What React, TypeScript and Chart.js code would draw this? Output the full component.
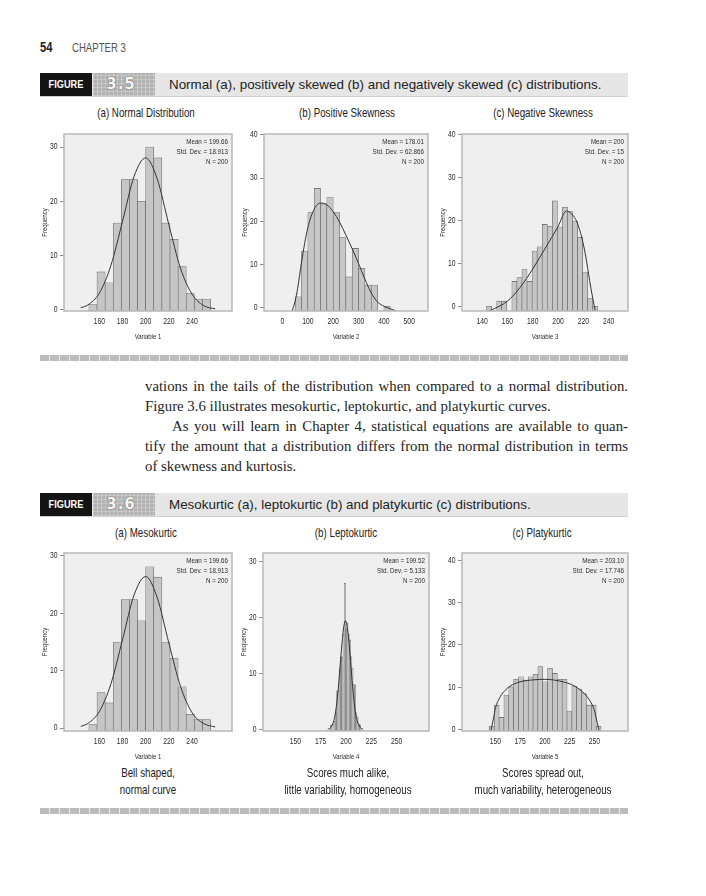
import React, { useEffect, useRef } from "react";
import { Chart, registerables } from "chart.js";
Chart.register(...registerables);

const SANS = "'Liberation Sans', Arial, sans-serif";
const SERIF = "'Liberation Serif', 'Times New Roman', serif";
const CONDENSE = 0.8;

// ---------- Figure 3.5 (a) Normal distribution ----------
const binStartA = 151;
const binWidthA = 7;
const countsA = [1, 7, 5, 16, 24, 24, 20, 30, 28, 16, 13, 8, 3, 2, 2];
const curveXA = [144, 150, 160, 170, 180, 190, 200, 210, 220, 230, 240, 250, 260];
const curveYA = [0.4, 0.9, 3.1, 8.2, 16.3, 24.6, 28.0, 24.1, 15.7, 7.7, 2.9, 0.8, 0.2];
const xTicksA = [160, 180, 200, 220, 240];
const yTicksA = [0, 10, 20, 30];
const statsA = ["Mean = 199.66", "Std. Dev. = 18.913", "N = 200"];

// ---------- Figure 3.5 (b) Positive skewness ----------
const binStartB = 50;
const binWidthB = 25;
const countsB = [2.5, 13.1, 22, 27.6, 24, 25.5, 22, 16.2, 7.1, 13.7, 9.1, 5.2, 5.2, null, 0.3];
const curveXB = [38, 50, 60, 75, 100, 125, 150, 175, 200, 225, 250, 275, 300, 325, 350, 375, 400, 425, 450];
const curveYB = [-0.8, 1.5, 4.5, 10.5, 18.5, 22.8, 24.2, 23.8, 22.2, 19.8, 16.8, 13.6, 10.2, 6.6, 3.4, 1.3, 0.3, -0.3, -0.8];
const xTicksB = [0, 100, 200, 300, 400, 500];
const yTicksB = [0, 10, 20, 30, 40];
const statsB = ["Mean = 178.01", "Std. Dev. = 62.866", "N = 200"];

// ---------- Figure 3.5 (c) Negative skewness ----------
const binStartC = 143.5;
const binWidthC = 4;
const countsC = [0, null, 1.2, 1.2, null, 5.8, 6.7, 8.7, 5.8, 12.9, 13.9, 19.1, 18.7, 24.6, 18.5, 23.1, 22.1, 19.9, 16.1, 8.0, 1.8, 0];
const curveXC = [145, 150, 160, 170, 180, 190, 200, 206.5, 211, 215, 219, 222, 225, 227.5, 229.5];
const curveYC = [-1.1, -0.5, 1.2, 4.4, 8.7, 13.6, 18.6, 22.2, 21.5, 19.6, 15.8, 11.5, 6.0, 1.8, -1.1];
const xTicksC = [140, 160, 180, 200, 220, 240];
const yTicksC = [0, 10, 20, 30, 40];
const statsC = ["Mean = 200", "Std. Dev. = 15", "N = 200"];

// ---------- Figure 3.6 (a) Mesokurtic ----------
const binStartD = 151;
const binWidthD = 7;
const countsD = [0.6, 6.2, 4.4, 15, 22.4, 22.4, 18.7, 28.1, 26.3, 14.9, 12.1, 7.2, 2.4, 1.5, 1.5];
const curveXD = [144, 150, 160, 170, 180, 190, 200, 210, 220, 230, 240, 250, 260];
const curveYD = [0.3, 0.8, 2.9, 7.7, 15.4, 23.2, 26.4, 22.7, 14.8, 7.3, 2.7, 0.8, 0.2];
const xTicksD = [160, 180, 200, 220, 240];
const yTicksD = [0, 10, 20, 30];
const statsD = ["Mean = 199.66", "Std. Dev. = 18.913", "N = 200"];

// ---------- Figure 3.6 (b) Leptokurtic ----------
const binStartE = 184.5;
const binWidthE = 1.25;
const countsE = [0.8, null, 1, 1.5, 3, 6.9, 7, 11, 13, 13, 17, 26.1, 18, 19, 17, 16, 13, 11, 8, 8, 3, 2.3, 1, 0.8];
const curveXE = [182, 185, 188, 190, 192, 194, 196, 198, 199.5, 201, 203, 205, 207, 209, 211, 214, 217];
const curveYE = [0.05, 0.4, 1.6, 3.5, 6.6, 10.9, 15.3, 18.6, 19.4, 18.6, 15.4, 11.0, 6.7, 3.5, 1.6, 0.4, 0.05];
const xTicksE = [150, 175, 200, 225, 250];
const yTicksE = [0, 10, 20, 30];
const statsE = ["Mean = 199.52", "Std. Dev. = 5.133", "N = 200"];

// ---------- Figure 3.6 (c) Platykurtic ----------
const binStartF = 144;
const binWidthF = 4.9;
const countsF = [0.8, 5.8, 2.9, 8.2, 10.1, 11.9, 12.5, 11.7, 12.5, 13.1, 14.9, 11.3, 14.5, 13.3, 11.9, 11.9, 4.4, 10.3, 9.6, 8.5, 5.8, 5.8, 0.8];
const curveXF = [145.5, 148, 150, 155, 160, 165, 175, 190, 200, 210, 220, 230, 240, 245, 250, 253, 255];
const curveYF = [-0.3, 2.5, 5.0, 7.8, 9.3, 10.3, 11.3, 11.8, 11.9, 11.7, 11.2, 10.3, 8.5, 7.0, 4.6, 1.5, -0.3];
const xTicksF = [150, 175, 200, 225, 250];
const yTicksF = [0, 10, 20, 30, 40];
const statsF = ["Mean = 203.10", "Std. Dev. = 17.746", "N = 200"];

type PanelCfg = {
  area: [number, number, number, number];
  xRange: [number, number];
  yRange: [number, number];
  binStart: number;
  binWidth: number;
  counts: (number | null)[];
  curveX: number[];
  curveY: number[];
  xTicks: number[];
  yTicks: number[];
  stats: string[];
  xTitle: string;
};

const panels: PanelCfg[] = [
  { area: [64, 134, 232, 311], xRange: [144, 260], yRange: [-0.2, 32.4], binStart: binStartA, binWidth: binWidthA, counts: countsA, curveX: curveXA, curveY: curveYA, xTicks: xTicksA, yTicks: yTicksA, stats: statsA, xTitle: "Variable 1" },
  { area: [264, 134, 428, 311], xRange: [-19, 520], yRange: [-0.8, 40.2], binStart: binStartB, binWidth: binWidthB, counts: countsB, curveX: curveXB, curveY: curveYB, xTicks: xTicksB, yTicks: yTicksB, stats: statsB, xTitle: "Variable 2" },
  { area: [462, 134, 628, 311], xRange: [135, 244.4], yRange: [-1.1, 40.2], binStart: binStartC, binWidth: binWidthC, counts: countsC, curveX: curveXC, curveY: curveYC, xTicks: xTicksC, yTicks: yTicksC, stats: statsC, xTitle: "Variable 3" },
  { area: [64, 553, 232, 731], xRange: [144, 260], yRange: [-0.5, 30.5], binStart: binStartD, binWidth: binWidthD, counts: countsD, curveX: curveXD, curveY: curveYD, xTicks: xTicksD, yTicks: yTicksD, stats: statsD, xTitle: "Variable 1" },
  { area: [263, 553, 429, 731], xRange: [134.5, 265.5], yRange: [-0.24, 31.5], binStart: binStartE, binWidth: binWidthE, counts: countsE, curveX: curveXE, curveY: curveYE, xTicks: xTicksE, yTicks: yTicksE, stats: statsE, xTitle: "Variable 4" },
  { area: [462, 553, 628, 731], xRange: [133.1, 267.2], yRange: [-0.3, 41.7], binStart: binStartF, binWidth: binWidthF, counts: countsF, curveX: curveXF, curveY: curveYF, xTicks: xTicksF, yTicks: yTicksF, stats: statsF, xTitle: "Variable 5" },
];

const PL = 34, PT = 8, PR = 6, PB = 34;

function condText(ctx: CanvasRenderingContext2D, s: string, x: number, y: number, align: CanvasTextAlign, size: number, rotate = 0) {
  ctx.save();
  ctx.translate(x, y);
  if (rotate) ctx.rotate(rotate);
  ctx.scale(CONDENSE, 1);
  ctx.font = `${size}px ${SANS}`;
  ctx.textAlign = align;
  ctx.textBaseline = "middle";
  ctx.fillText(s, 0, 0);
  ctx.restore();
}

function Panel({ cfg }: { cfg: PanelCfg }) {
  const ref = useRef<HTMLCanvasElement>(null);
  const [l, t, r, b] = cfg.area;
  const W = r - l + PL + PR;
  const H = b - t + PT + PB;
  useEffect(() => {
    if (!ref.current) return;
    const bars = cfg.counts.map((c, i) => ({ x: cfg.binStart + cfg.binWidth * (i + 0.5), y: c }));
    const curve = cfg.curveX.map((x, i) => ({ x, y: cfg.curveY[i] }));
    const framePlugin = {
      id: "frame",
      beforeDraw(chart: any) {
        const { ctx, chartArea: a } = chart;
        ctx.save();
        ctx.fillStyle = "#efefef";
        ctx.fillRect(a.left, a.top, a.right - a.left, a.bottom - a.top);
        ctx.restore();
      },
      afterDraw(chart: any) {
        const { ctx, chartArea: a, scales } = chart;
        ctx.save();
        ctx.strokeStyle = "#bcbcbc";
        ctx.lineWidth = 1.6;
        ctx.strokeRect(a.left, a.top, a.right - a.left, a.bottom - a.top);
        ctx.fillStyle = "#2c2c2c";
        cfg.stats.forEach((s, i) => condText(ctx, s, a.right - 4, a.top + 7.5 + i * 10.3, "right", 7.8));
        cfg.xTicks.forEach((v) => condText(ctx, String(v), scales.x.getPixelForValue(v), a.bottom + 11, "center", 8.5));
        cfg.yTicks.forEach((v) => condText(ctx, String(v), a.left - 6.5, scales.y.getPixelForValue(v), "right", 8.5));
        condText(ctx, cfg.xTitle, (a.left + a.right) / 2, a.bottom + 25.5, "center", 7.5);
        condText(ctx, "Frequency", a.left - 19.5, (a.top + a.bottom) / 2, "center", 7.5, -Math.PI / 2);
        ctx.restore();
      },
    };
    const chart = new Chart(ref.current, {
      type: "bar",
      data: {
        datasets: [
          {
            type: "line",
            data: curve,
            borderColor: "#333333",
            borderWidth: 1,
            pointRadius: 0,
            cubicInterpolationMode: "monotone",
            fill: false,
            order: 0,
          } as any,
          {
            type: "bar",
            data: bars,
            base: cfg.yRange[0],
            backgroundColor: "#c6c6c6",
            borderColor: "#5e5e5e",
            borderWidth: 0.6,
            borderSkipped: false,
            barPercentage: 1,
            categoryPercentage: 1,
            grouped: false,
            order: 1,
          } as any,
        ],
      },
      options: {
        animation: false,
        responsive: false,
        devicePixelRatio: 1,
        layout: { padding: { left: 0, top: PT, right: PR, bottom: 0 } },
        plugins: { legend: { display: false }, tooltip: { enabled: false }, title: { display: false } },
        scales: {
          x: {
            type: "linear",
            min: cfg.xRange[0],
            max: cfg.xRange[1],
            afterBuildTicks: (s: any) => { s.ticks = cfg.xTicks.map((v) => ({ value: v })); },
            afterFit: (s: any) => { s.height = PB; },
            grid: { display: false, drawTicks: false },
            border: { display: false },
            ticks: { display: false },
          },
          y: {
            type: "linear",
            min: cfg.yRange[0],
            max: cfg.yRange[1],
            afterBuildTicks: (s: any) => { s.ticks = cfg.yTicks.map((v) => ({ value: v })); },
            afterFit: (s: any) => { s.width = PL; },
            grid: { display: true, drawOnChartArea: false, drawTicks: true, tickLength: 4, color: "#8a8a8a", lineWidth: 1 },
            border: { display: false },
            ticks: { display: false },
          },
        },
      } as any,
      plugins: [framePlugin],
    });
    return () => chart.destroy();
  }, []);
  return (
    <canvas
      ref={ref}
      width={W}
      height={H}
      style={{ position: "absolute", left: l - PL, top: t - PT, width: W, height: H }}
    />
  );
}

function Cond({ left, top, text, size, bold, color = "#222", origin = "left" }: { left: number; top: number; text: string; size: number; bold?: boolean; color?: string; origin?: string }) {
  return (
    <div style={{ position: "absolute", left, top, font: `${bold ? "bold " : ""}${size}px ${SANS}`, lineHeight: "16px", color, whiteSpace: "nowrap", transform: `scaleX(${CONDENSE})`, transformOrigin: origin }}>{text}</div>
  );
}

function Banner({ top, num, caption }: { top: number; num: string; caption: string }) {
  return (
    <div style={{ position: "absolute", left: 40, top, width: 588, height: 23, background: "#e6e6e6", borderBottom: "1px solid #d2d2d2" }}>
      <div style={{ position: "absolute", left: 0, top: 0, width: 52, height: 23, background: "#141414" }} />
      <div style={{ position: "absolute", left: 0, top: 0, width: 52, height: 23, color: "#fff", font: `bold 11.5px ${SANS}`, lineHeight: "23px", textAlign: "center", transform: `scaleX(${CONDENSE})`, transformOrigin: "center" }}>FIGURE</div>
      <div
        style={{
          position: "absolute", left: 53, top: 0, width: 62, height: 23,
          backgroundColor: "#b3b3b3",
          backgroundImage: "repeating-linear-gradient(0deg, rgba(255,255,255,0.22) 0 1px, transparent 1px 4px), repeating-linear-gradient(90deg, rgba(255,255,255,0.22) 0 1px, transparent 1px 4px)",
        }}
      />
      <div style={{ position: "absolute", left: 53, top: 0, width: 56, height: 23, color: "#f6f6f6", font: "bold 15px 'DejaVu Sans', sans-serif", lineHeight: "23px", textAlign: "center", letterSpacing: "1px", textShadow: "0 0 1px #555, 0 0 1px #555" }}>{num}</div>
      <div style={{ position: "absolute", left: 129, top: 0, height: 23, font: `13.4px ${SANS}`, lineHeight: "23px", color: "#222", whiteSpace: "nowrap" }}>{caption}</div>
    </div>
  );
}

function Sep({ top }: { top: number }) {
  return (
    <div style={{ position: "absolute", left: 40, top, width: 588, height: 6, backgroundImage: "repeating-linear-gradient(90deg, #bcbcbc 0 9px, #e9e9e9 9px 10px)" }} />
  );
}

function Center({ cx, cy, text, size = 12.2 }: { cx: number; cy: number; text: string; size?: number }) {
  return (
    <div style={{ position: "absolute", left: cx - 150, top: cy - 8, width: 300, height: 16, textAlign: "center", font: `${size}px ${SANS}`, lineHeight: "16px", color: "#222", whiteSpace: "nowrap", transform: `scaleX(${CONDENSE})`, transformOrigin: "center" }}>{text}</div>
  );
}

function Line({ left, cy, width, text, justify }: { left: number; cy: number; width: number; text: string; justify?: boolean }) {
  return (
    <div
      style={{
        position: "absolute", left, top: cy - 10, width, height: 20,
        font: `14.8px ${SERIF}`, lineHeight: "20px", color: "#1e1e1e",
        textAlign: justify ? "justify" : "left", textAlignLast: justify ? "justify" : "left",
        whiteSpace: justify ? "normal" : "nowrap",
      } as any}
    >{text}</div>
  );
}

export default function App() {
  return (
    <div style={{ position: "absolute", left: 0, top: 0, width: 706, height: 896, background: "#fff", overflow: "hidden" }}>
      <Cond left={40} top={39} text="54" size={14} bold />
      <Cond left={72} top={40} text="CHAPTER 3" size={12} color="#555" />

      <Banner top={73} num="3.5" caption="Normal (a), positively skewed (b) and negatively skewed (c) distributions." />
      <Center cx={146} cy={113} text="(a) Normal Distribution" />
      <Center cx={347} cy={113} text="(b) Positive Skewness" />
      <Center cx={543} cy={113} text="(c) Negative Skewness" />

      <Sep top={355} />

      <Line left={145} cy={386} width={483} justify text="vations in the tails of the distribution when compared to a normal distribution." />
      <Line left={145} cy={406} width={483} text="Figure 3.6 illustrates mesokurtic, leptokurtic, and platykurtic curves." />
      <Line left={172} cy={426} width={456} justify text="As you will learn in Chapter 4, statistical equations are available to quan-" />
      <Line left={145} cy={446} width={483} justify text="tify the amount that a distribution differs from the normal distribution in terms" />
      <Line left={145} cy={466} width={483} text="of skewness and kurtosis." />

      <Banner top={493} num="3.6" caption="Mesokurtic (a), leptokurtic (b) and platykurtic (c) distributions." />
      <Center cx={146} cy={533} text="(a) Mesokurtic" />
      <Center cx={346} cy={533} text="(b) Leptokurtic" />
      <Center cx={542} cy={533} text="(c) Platykurtic" />

      {panels.map((p, i) => <Panel key={i} cfg={p} />)}

      <Center cx={148} cy={773} text="Bell shaped," />
      <Center cx={148} cy={790} text="normal curve" />
      <Center cx={348} cy={773} text="Scores much alike," />
      <Center cx={348} cy={790} text="little variability, homogeneous" />
      <Center cx={543} cy={773} text="Scores spread out," />
      <Center cx={543} cy={790} text="much variability, heterogeneous" />

      <Sep top={808} />
    </div>
  );
}
